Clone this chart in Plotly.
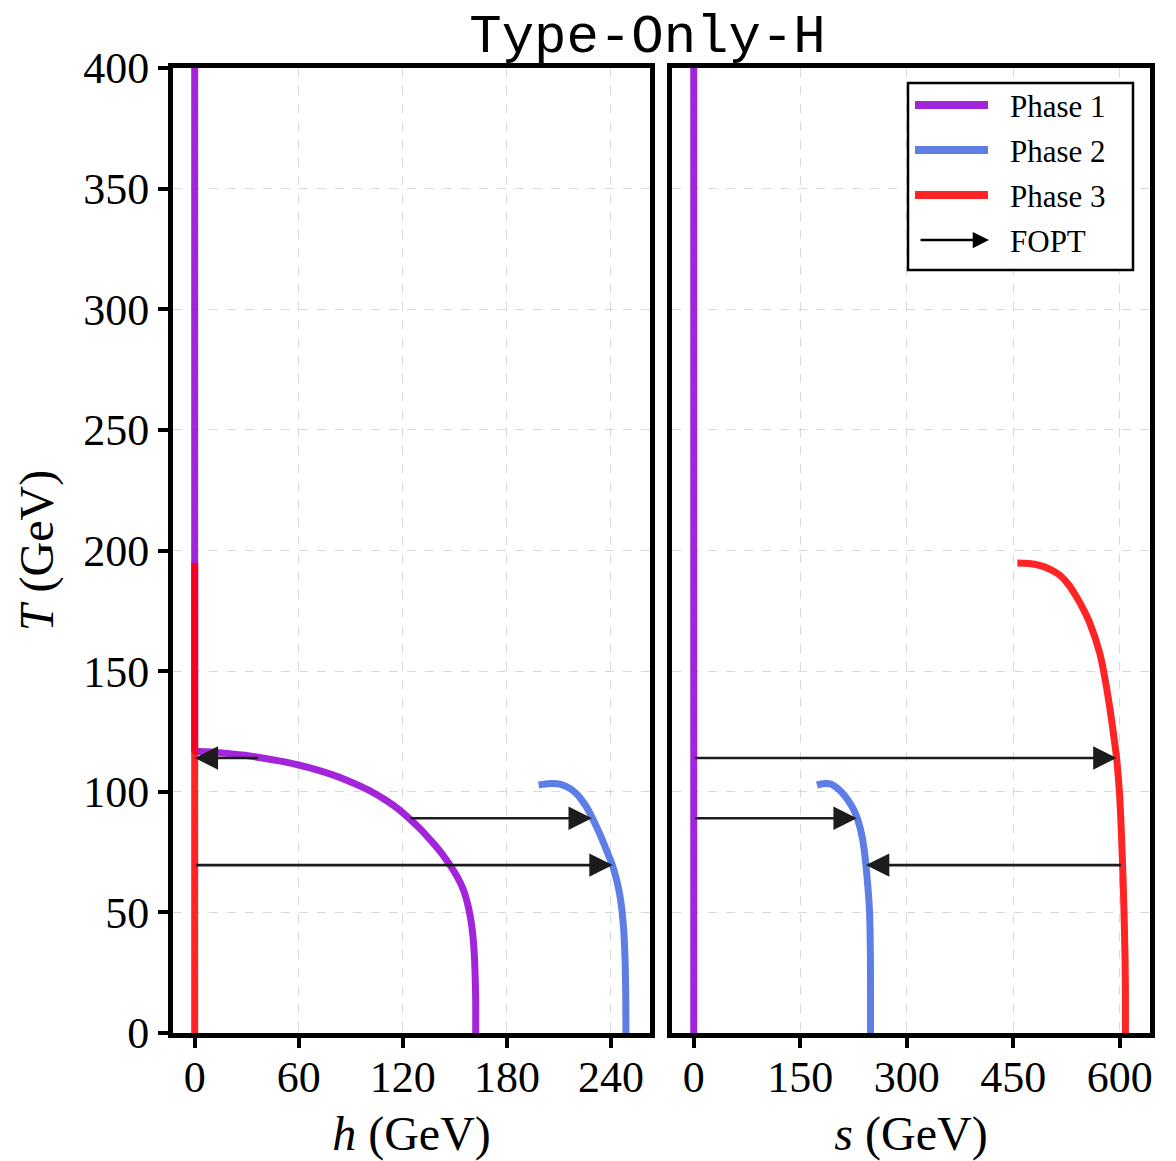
import plotly.graph_objects as go
from plotly.subplots import make_subplots

# ---------------- data ----------------
phase_names = ["Phase 1", "Phase 2", "Phase 3"]
phase_colors = ["#9400D3", "#4169E1", "#FF0000"]

# Phase 1
T1 = [400, 200, 117.0, 116.8, 116.6, 116.3, 115.8, 115.1, 114.2, 113.0, 111.1, 109.2, 106.9, 104.7, 102.3, 99.6, 96.6, 93.1, 89.0, 84.6, 79.9, 75.3, 70.3, 66.4, 62.5, 59.2, 55.8, 51.5, 46.5, 41.0, 35.0, 26.0, 14.0, 0.0]
h1 = [0, 0, 0, 0, 5, 12, 20, 29, 37.4, 47, 60, 70, 80, 88, 95.5, 103, 110, 117, 123.6, 130, 136, 141.5, 146.5, 150, 153, 155, 156.5, 158, 159.3, 160.3, 161, 161.6, 162, 162]
s1 = [0, 0, 0, 0, 0, 0, 0, 0, 0, 0, 0, 0, 0, 0, 0, 0, 0, 0, 0, 0, 0, 0, 0, 0, 0, 0, 0, 0, 0, 0, 0, 0, 0, 0]

# Phase 2
T2 = [102.8, 103.4, 103.1, 101.3, 98.9, 96.2, 93.3, 89.5, 85.3, 80.8, 75.6, 69.6, 63.6, 57.6, 51.0, 43.0, 31.0, 16.0, 0.0]
h2 = [198.3, 205, 211, 216.5, 220.5, 223.5, 226.2, 229, 231.8, 234.6, 237.5, 240.8, 243.2, 245, 246.3, 247.3, 248.1, 248.5, 248.6]
s2 = [173.5, 184, 194, 203, 211, 218, 224, 229.7, 234, 237.5, 240.2, 242.5, 244.4, 246.1, 247.5, 248.3, 248.85, 249, 249]

# Phase 3
T3 = [194.8, 194.6, 193.8, 192.2, 189.8, 185.8, 180.8, 175.5, 170.0, 157.5, 143.0, 129.7, 120.0, 114.0, 100.0, 85.0, 69.6, 50.0, 30.0, 15.0, 0.0]
h3 = [0, 0, 0, 0, 0, 0, 0, 0, 0, 0, 0, 0, 0, 0, 0, 0, 0, 0, 0, 0, 0]
s3 = [455.8, 472, 487, 502, 515.5, 528, 539, 549, 557.7, 571.8, 581.5, 588.5, 593, 595.5, 599.5, 602, 604, 606, 607.5, 608, 608]

# First-order phase transitions (FOPT) arrows
fopt_T = [114.0, 89.0, 69.6]
fopt_h_from = [37.4, 123.6, 0.0]
fopt_h_to = [0.0, 229.0, 241.0]
fopt_s_from = [0.0, 0.0, 604.0]
fopt_s_to = [595.5, 229.7, 242.5]

h_ticks = [0, 60, 120, 180, 240]
s_ticks = [0, 150, 300, 450, 600]
T_ticks = [0, 50, 100, 150, 200, 250, 300, 350, 400]

title_text = "Type-Only-H"
legend_fopt = "FOPT"

# ---------------- figure ----------------
W, H = 1176, 1161
ML, MR, MT, MB = 173, 26, 68, 128
PW = W - ML - MR
PH = H - MT - MB


def px_x(px):
    return (px - ML) / PW


def px_y(py):
    return (H - MB - py) / PH


fig = make_subplots(rows=1, cols=2, shared_yaxes=True)

phases = [(T1, h1, s1), (T2, h2, s2), (T3, h3, s3)]
for (T, h, s), name, col in zip(phases, phase_names, phase_colors):
    fig.add_trace(go.Scatter(x=h, y=T, mode="lines", name=name, opacity=0.85,
                             line=dict(color=col, width=7, shape="spline", smoothing=1),
                             showlegend=False), row=1, col=1)
    fig.add_trace(go.Scatter(x=s, y=T, mode="lines", name=name, opacity=0.85,
                             line=dict(color=col, width=7, shape="spline", smoothing=1),
                             showlegend=False), row=1, col=2)

arrow_style = dict(text="", showarrow=True, arrowhead=2, arrowsize=1.8, arrowwidth=2.6,
                   arrowcolor="#1c1c1c", standoff=0, startstandoff=0)
for T, hf, ht, sf, st in zip(fopt_T, fopt_h_from, fopt_h_to, fopt_s_from, fopt_s_to):
    fig.add_annotation(x=ht, y=T, ax=hf, ay=T, xref="x", yref="y", axref="x", ayref="y", **arrow_style)
    fig.add_annotation(x=st, y=T, ax=sf, ay=T, xref="x2", yref="y2", axref="x2", ayref="y2", **arrow_style)

serif = "Liberation Serif"
tickfont = dict(family=serif, size=44, color="black")
titlefont = dict(family=serif, size=48, color="black")
grid = dict(showgrid=True, gridcolor="rgba(170,170,170,0.45)", gridwidth=1, griddash="dash")
axis_common = dict(showline=True, linecolor="black", linewidth=5, mirror=True,
                   ticks="outside", ticklen=10, tickwidth=4, tickcolor="black",
                   zeroline=False, tickfont=tickfont, automargin=False, **grid)

fig.update_layout(
    width=W, height=H,
    margin=dict(l=ML, r=MR, t=MT, b=MB, autoexpand=False),
    paper_bgcolor="white", plot_bgcolor="white",
    showlegend=False,
    title=dict(text=title_text, font=dict(family="Liberation Mono", size=54, color="black"),
               x=px_x(647.5), xref="paper", xanchor="center",
               y=1 - 33 / H, yref="container", yanchor="middle"),
    xaxis=dict(domain=[0, px_x(650)], range=[-12.5, 262.5], tickvals=h_ticks, ticklabelstandoff=-9,
               title=dict(text="<i>h</i> (GeV)", font=titlefont, standoff=20), **axis_common),
    xaxis2=dict(domain=[px_x(672), 1], range=[-30.6, 642.6], tickvals=s_ticks, ticklabelstandoff=-9,
                title=dict(text="<i>s</i> (GeV)", font=titlefont, standoff=20), **axis_common),
    yaxis=dict(domain=[0, 1], range=[0, 400], tickvals=T_ticks,
               title=dict(text="<i>T</i> (GeV)", font=titlefont, standoff=16), **axis_common),
)
fig.update_layout(yaxis2=dict(showline=True, linecolor="black", linewidth=5, mirror=True,
                              ticks="", showticklabels=False, zeroline=False, range=[0, 400],
                              automargin=False, tickvals=T_ticks, **grid))

# ---------------- legend (drawn in the right panel, top right) ----------------
fig.add_shape(type="rect", xref="paper", yref="paper",
              x0=px_x(908), x1=px_x(1133), y0=px_y(270), y1=px_y(83),
              line=dict(color="black", width=2.5), fillcolor="white", layer="above")
leg_rows_y = [105, 150, 195]
for yy, name, col in zip(leg_rows_y, phase_names, phase_colors):
    fig.add_shape(type="line", xref="paper", yref="paper",
                  x0=px_x(915), x1=px_x(988), y0=px_y(yy), y1=px_y(yy),
                  line=dict(color=col, width=8), opacity=0.85, layer="above")
    fig.add_annotation(x=px_x(1008), y=px_y(yy + 1), xref="paper", yref="paper",
                       text=name, showarrow=False, xanchor="left", yanchor="middle",
                       font=dict(family=serif, size=31, color="black"))
fig.add_annotation(x=px_x(989), y=px_y(240), xref="paper", yref="paper",
                   ax=-70, ay=0, text="", showarrow=True, arrowhead=2, arrowsize=1.25,
                   arrowwidth=2.6, arrowcolor="black", standoff=0)
fig.add_annotation(x=px_x(1008), y=px_y(241), xref="paper", yref="paper",
                   text=legend_fopt, showarrow=False, xanchor="left", yanchor="middle",
                   font=dict(family=serif, size=31, color="black"))

fig.write_html("out.html")
